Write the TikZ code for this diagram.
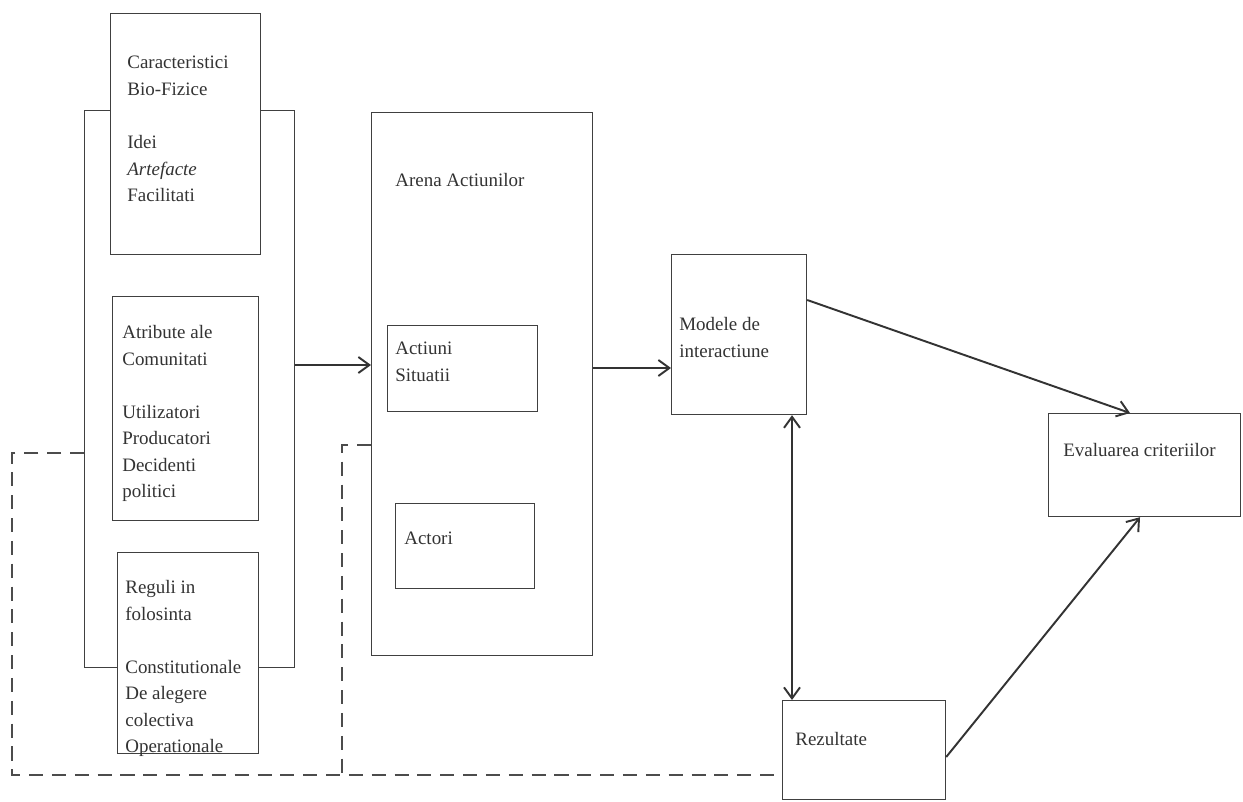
\documentclass[tikz,border=0pt]{standalone}
\usepackage{fontspec}
\setmainfont{Liberation Serif}
\usetikzlibrary{arrows.meta, positioning}

\begin{document}
\begin{tikzpicture}[x=0.02cm, y=-0.02cm,
			vtip/.tip={Straight Barb[length=2.2mm, width=3.2mm]},
			box/.style={shape=rectangle,
				draw=black!75,
				line width=0.7pt,
				fill=white,
				anchor=north west,
			inner sep=0pt},
			txt/.style={anchor=north west, inner sep=0pt, align=left, text=black!80,
				font=\fontsize{10.8}{15.1}\selectfont},
			flow/.style={draw=black!80, line width=1.1pt, -vtip},
			feedback/.style={draw=black!70, line width=0.8pt, dash pattern=on 8pt off 5pt}]

			\useasboundingbox[fill=white] (0, 0) rectangle (1243, 801);

			% left group
			\node[box, fill=none, minimum width=4.2cm, minimum height=11.14cm] at (84, 110) (frame){};
			\node[box, minimum width=3cm, minimum height=4.82cm] at (110, 13) (carac){};
			\node[box, minimum width=2.92cm, minimum height=4.48cm] at (112, 296) (atrib){};
			\node[box, minimum width=2.82cm, minimum height=4.02cm] at (117, 552) (reguli){};

			\node[txt] at (127, 56) (caracTxt){Caracteristici\\Bio-Fizice\\[15.1pt]Idei\\\textit{Artefacte}\\Facilitati};
			\node[txt] at (122, 325) (atribTxt){Atribute ale\\Comunitati\\[15.1pt]Utilizatori\\Producatori\\Decidenti\\politici};
			\node[txt] at (125, 580) (reguliTxt){Reguli in\\folosinta\\[15.1pt]Constitutionale\\De alegere\\colectiva\\Operationale};

			% arena
			\node[box, minimum width=4.42cm, minimum height=10.86cm] at (371, 112) (arena){};
			\node[box, minimum width=3cm, minimum height=1.72cm] at (387, 325) (sit){};
			\node[box, minimum width=2.78cm, minimum height=1.7cm] at (395, 503) (actori){};

			\node[txt] at (395, 173) (arenaTxt){Arena Actiunilor};
			\node[txt] at (395, 342) (sitTxt){Actiuni\\Situatii};
			\node[txt] at (404, 532) (actoriTxt){Actori};

			% right side
			\node[box, minimum width=2.7cm, minimum height=3.2cm] at (671, 254) (model){};
			\node[box, minimum width=3.84cm, minimum height=2.06cm] at (1048, 413) (eval){};
			\node[box, minimum width=3.26cm, minimum height=1.98cm] at (782, 700) (rezult){};

			\node[txt] at (679, 317) (modelTxt){Modele de\\interactiune};
			\node[txt] at (1063, 443) (evalTxt){Evaluarea criteriilor};
			\node[txt] at (795, 732) (rezultTxt){Rezultate};

			\coordinate (dashL) at (12, 775);
			\coordinate (dashM) at (342, 775);

			\draw[flow] (frame.east |- 0, 365) -- (arena.west |- 0, 365);
			\draw[flow] (arena.east |- 0, 368) -- (model.west |- 0, 368);
			\draw[flow] (model.east |- 0, 300) -- (eval.north -| 1130, 0);
			\draw[flow] (rezult.east |- 0, 757) -- (eval.south -| 1140, 0);
			\draw[flow, vtip-vtip] (model.south -| 792, 0) -- (rezult.north -| 792, 0);

			\draw[feedback] (frame.west |- 0, 453) -| (dashL) -- (rezult.west |- dashL);
			\draw[feedback] (arena.west |- 0, 445) -| (dashM);
		\end{tikzpicture}
\end{document}
